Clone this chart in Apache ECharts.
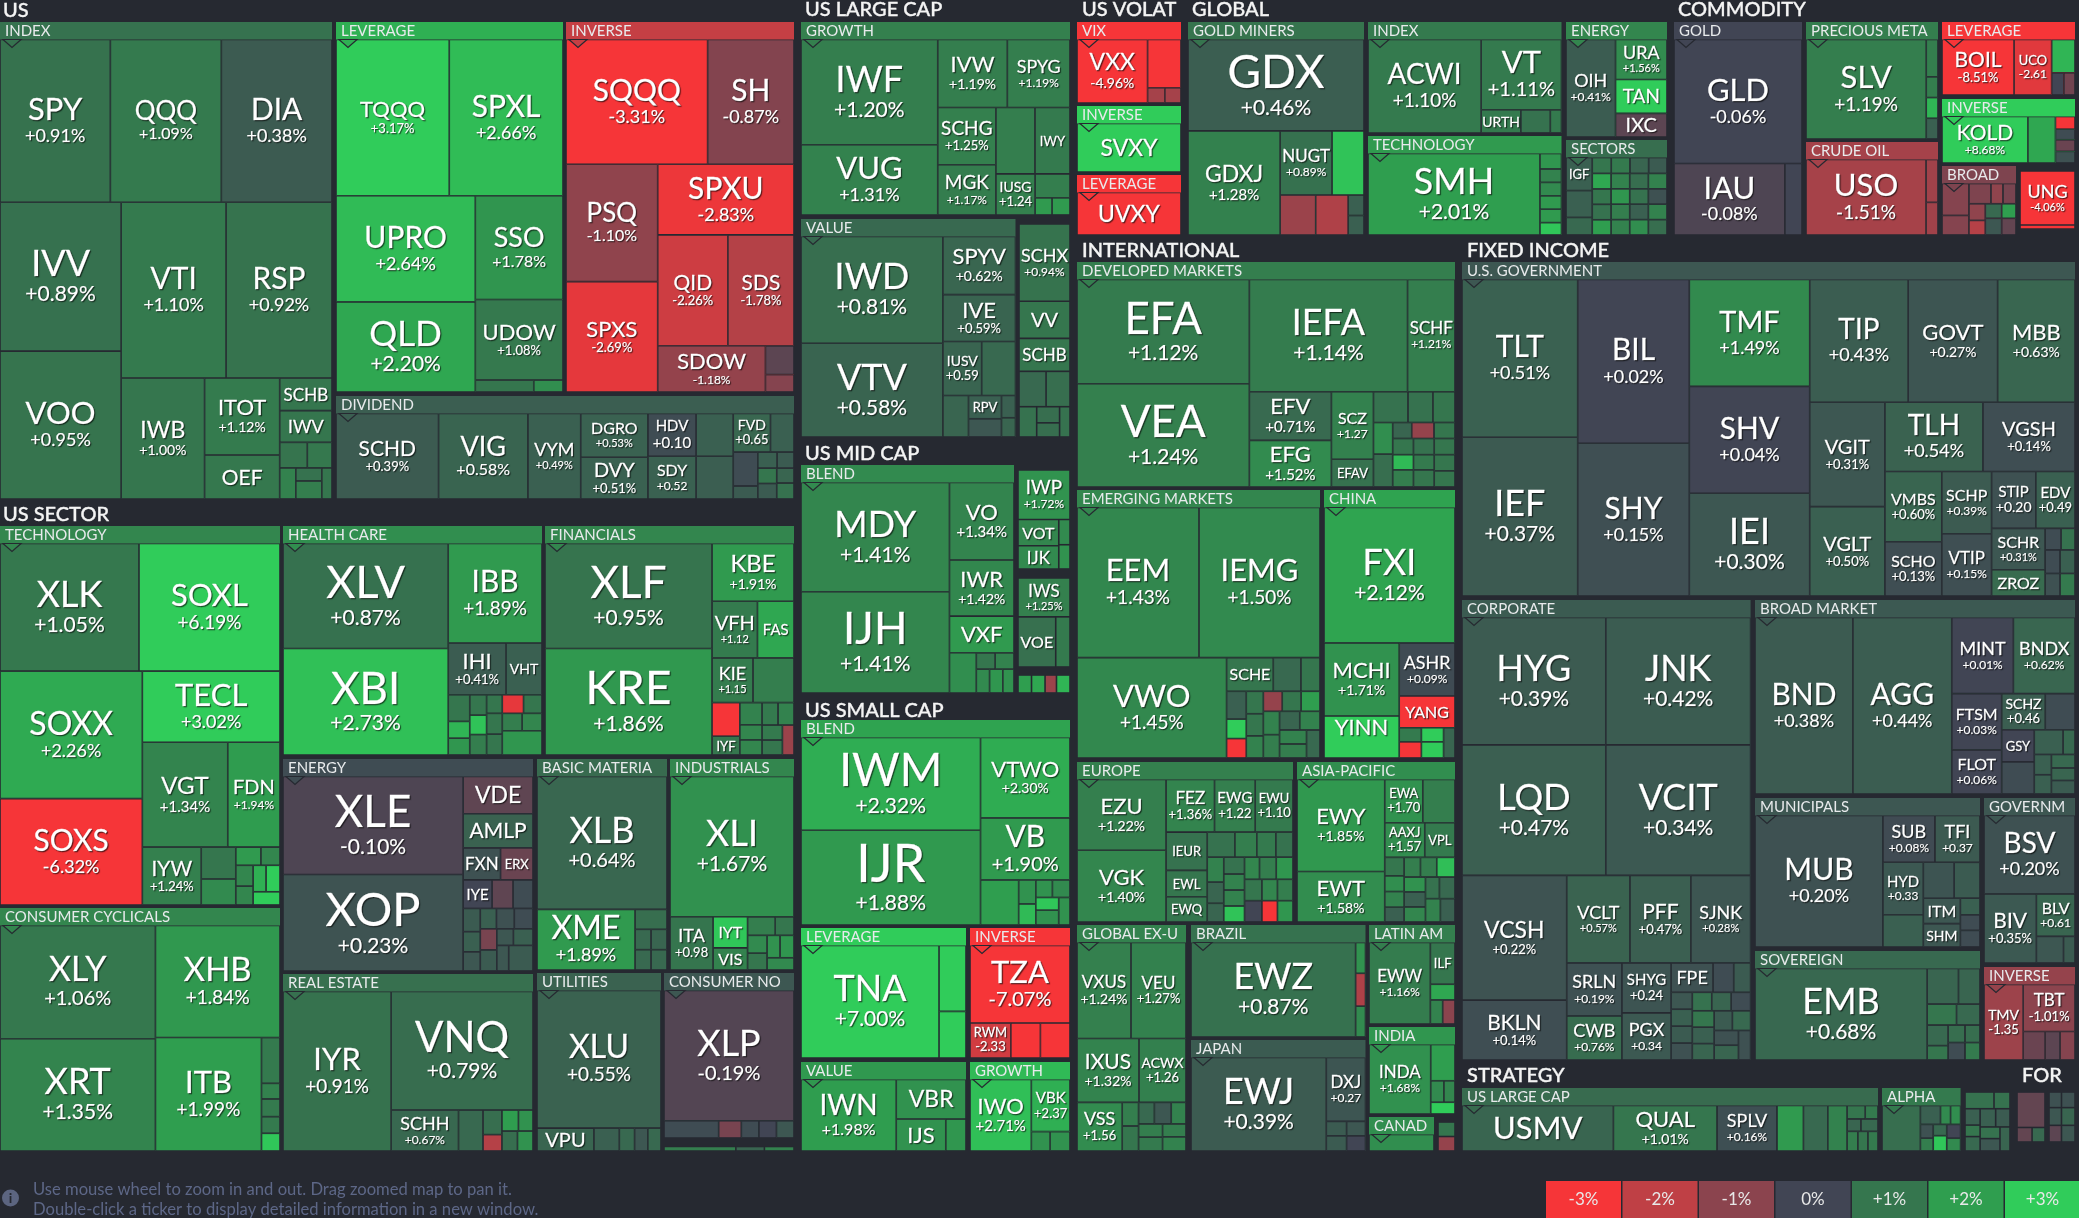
<!DOCTYPE html>
<html><head><meta charset="utf-8"><style>html,body{margin:0;padding:0;background:#262931}#c{width:2079px;height:1218px}</style>
<script src="https://cdn.jsdelivr.net/npm/echarts@6/dist/echarts.min.js"></script></head><body><div id="c"></div>
<script>
// ---- DATA: ticker names, daily change in percent, and relative size ----
const usIndexNames=['SPY','QQQ','DIA','IVV','VOO','VTI','RSP','IWB','ITOT','OEF','SCHB','IWV','','','','','',''];
const usIndexChange=[.91,1.09,.38,.89,.95,1.10,.92,1.00,1.12,1.05,1.0,1.0,.95,1.05,1.3,.9,1.2,1.0];
const usIndexSize=[17800,17900,17850,17880,17760,18270,18444,10004,5736,3278,1696,1643,700,625,496,336,465,315];
const usLevNames=['TQQQ','SPXL','UPRO','QLD','SSO','UDOW','',''];
const usLevChange=[3.17,2.66,2.64,2.20,1.78,1.08,1.0,1.6];
const usLevSize=[17628,17700,14734,12510,9064,7040,696,348];
const usInvNames=['SQQQ','SH','PSQ','SPXS','SPXU','QID','SDS','SDOW','',''];
const usInvChange=[-3.31,-.87,-1.10,-2.69,-2.83,-2.26,-1.78,-1.18,-.3,-.9];
const usInvSize=[17484,10664,10647,10010,9520,7700,7260,4922,812,493];
const usDivNames=['SCHD','VIG','VYM','DGRO','DVY','HDV','SDY','','','FVD','','','','','','','','',''];
const usDivChange=[.39,.58,.49,.53,.51,.10,.52,.5,.45,.65,.5,.1,.4,.5,.4,1.0,.4,.6,.9];
const usDivSize=[8585,7480,4420,2881,2747,2016,2016,1554,1554,1406,888,816,312,304,266,285,288,252,270];
const techNames=['XLK','SOXL','SOXX','SOXS','TECL','VGT','FDN','IYW','','','','','','','','',''];
const techChange=[1.05,6.19,2.26,-6.32,3.02,1.34,1.94,1.24,1.0,1.5,1.9,1.4,1.4,1.4,2.4,3,3];
const techSize=[17514,17766,17907,14946,9660,8840,5408,3364,1088,884,450,342,357,323,338,364,351];
const healthNames=['XLV','XBI','IBB','IHI','VHT','','','','','','','','','','','','','',''];
const healthChange=[.87,2.73,1.89,.41,.5,1.0,2.5,1.8,1.0,2.8,1.2,1.0,-2.7,1.0,1.0,1.0,1.2,1.4,1.8];
const healthSize=[17138,17384,9212,2958,1836,567,357,357,340,323,340,289,391,340,323,323,342,342,950];
const finNames=['XLF','KRE','KBE','VFH','FAS','KIE','','','IYF','','','','','','','',''];
const finChange=[.95,1.86,1.91,1.12,2.2,1.15,1.2,-4,1.0,1.3,1.4,1.4,1.1,1.3,1.1,1.0,-1.3];
const finSize=[17242,17490,4648,2530,2035,1804,1804,918,513,484,330,330,352,352,300,300,341];
const cycNames=['XLY','XRT','XHB','ITB','','','','',''];
const cycChange=[1.06,1.35,1.84,1.99,1.1,1.3,1.1,1.1,2.9];
const cycSize=[17360,17205,13764,11865,836,285,323,304,323];
const energyNames=['XLE','XOP','VDE','AMLP','FXN','ERX','IYE','','','','','','','','','','','','','',''];
const energyChange=[-.10,.23,-.35,.55,.2,-.5,.05,-.35,.1,.4,.5,.3,.5,.2,.1,-.7,.4,.3,.5,.3,.4];
const energySize=[17355,17088,2556,2343,1178,1023,812,588,560,391,340,323,323,357,374,342,342,272,320,300,611];
const basicNames=['XLB','XME','','','','',''];
const basicChange=[.64,1.89,.8,.7,.6,.7,.7];
const basicSize=[17030,5856,627,320,320,320,320];
const indusNames=['XLI','ITA','IYT','VIS','','','','','','',''];
const indusChange=[1.67,.98,2.9,1.3,1.2,1.0,1.5,1.0,1.7,1.8,1.5];
const indusSize=[17112,2255,1054,748,504,342,342,323,286,308,324];
const realNames=['IYR','VNQ','SCHH','','','','','','',''];
const realChange=[.91,.79,.67,.7,.8,-1.8,2.0,1.7,.8,1.7];
const realSize=[16906,16472,2706,984,456,304,340,300,304,304];
const utilNames=['XLU','VPU','','','',''];
const utilChange=[.55,.6,.5,.7,.3,.7];
const utilSize=[16864,1288,575,345,299,299];
const staplesNames=['XLP','VDC','','','',''];
const staplesChange=[-.19,.1,-.7,.1,.0,.3];
const staplesSize=[16640,928,385,298,298,298];
const staplesTailChange=[1.2,.6,1.3];
const staplesTailNames=['','',''];
const staplesTailSize=[340,135,140];
const growthNames=['IWF','VUG','IVW','SPYG','SCHG','MGK','','IWY','IUSG','','',''];
const growthChange=[1.20,1.31,1.19,1.19,1.25,1.17,1.2,1.1,1.24,1.2,1.9,1.9];
const growthSize=[14280,9520,4690,4221,3306,2900,2574,2310,1599,828,289,306];
const valueNames=['IWD','VTV','SPYV','IVE','IUSV','','','RPV','','',''];
const valueChange=[.81,.58,.62,.59,.59,.7,.6,.5,.3,.5,.6];
const valueSize=[14946,13113,4161,3358,2067,1802,1050,759,594,308,266];
const lcSideNames=['SCHX','VV','SCHB','','','','','',''];
const lcSideChange=[.94,1.0,1.0,.7,.8,.9,.8,.8,.9];
const lcSideSize=[3750,1800,1600,910,805,510,352,308,300];
const midNames=['MDY','IJH','VO','IWR','VXF','','','','','',''];
const midChange=[1.41,1.41,1.34,1.42,1.9,1.6,1.0,1.3,1.5,1.8,1.7];
const midSize=[16023,14847,4940,3575,2340,1066,304,304,312,312,264];
const midSideANames=['IWP','VOT','IJK','',''];
const midSideAChange=[1.72,1.4,1.5,1.5,1.7];
const midSideASize=[2496,1040,920,275,264];
const midSideBNames=['IWS','VOE',''];
const midSideBChange=[1.25,.85,1.1];
const midSideBSize=[1976,1850,700];
const midSideCNames=['','','',''];
const midSideCChange=[2,2.2,-1.3,2.5];
const midSideCSize=[234,234,198,234];
const smallNames=['IWM','IJR','VTWO','VB','','','','','','','',''];
const smallChange=[2.32,1.88,2.30,1.90,2.0,1.7,2.6,1.7,1.5,2.9,1.7,1.7];
const smallSize=[16468,16826,7110,5490,1702,408,357,289,306,288,336,308];
const smLevNames=['TNA','',''];
const smLevChange=[7.00,5,5];
const smLevSize=[15344,1755,1242];
const smInvNames=['TZA','RWM','',''];
const smInvChange=[-7.07,-2.33,-4,-4];
const smInvSize=[7600,1400,1015,1015];
const smValNames=['IWN','VBR','IJS',''];
const smValChange=[1.98,1.7,1.7,1.8];
const smValSize=[6745,2730,1568,640];
const smGroNames=['IWO','VBK','',''];
const smGroChange=[2.71,2.37,1.7,1.7];
const smGroSize=[4331,1989,360,380];
const vixNames=['VXX','','',''];
const vixChange=[-4.96,-4.5,-1.5,-1.5];
const vixSize=[4347,1564,255,240];
const volInvNames=['SVXY'];const volInvChange=[3.5];const volInvSize=[1];
const volLevNames=['UVXY'];const volLevChange=[-5];const volLevSize=[1];
const minersNames=['GDX','GDXJ','NUGT','','','','',''];
const minersChange=[.46,1.28,.89,2.8,-1.3,-1.7,.5,.5];
const minersSize=[15840,9450,3276,2016,1400,1280,320,304];
const glIndexNames=['ACWI','VT','URTH','',''];
const glIndexChange=[1.10,1.11,1.1,.9,1.1];
const glIndexSize=[10323,5508,897,667,253];
const glTechNames=['SMH','','','','','',''];
const glTechChange=[2.01,1.8,1.3,1.5,1.9,1.9,2.9];
const glTechSize=[13851,330,286,286,286,286,264];
const glEnergyNames=['OIH','URA','TAN','IXC'];
const glEnergyChange=[.41,1.56,3,-.3];
const glEnergySize=[4753,2028,1716,1196];
const glSectorNames=['IGF','','','','','','','','','','','','','','','','','','','','','',''];
const glSectorChange=[.5,.5,.7,1.0,1.1,.6,.4,2.2,1.0,.9,2.0,1.3,.8,1.3,1.8,1.2,1.3,.9,.2,.5,1.6,1.3,.8];
const glSectorSize=[832,676,442,290,285,285,280,280,278,278,275,275,275,275,275,275,275,275,275,275,275,275,275];
const goldNames=['GLD','IAU',''];
const goldChange=[-.06,-.08,0];
const goldSize=[15616,7810,1207];
const preciousNames=['SLV','','','',''];
const preciousChange=[1.19,1.2,1.2,2.5,.5];
const preciousSize=[11781,432,240,240,240];
const crudeNames=['USO','',''];
const crudeChange=[-1.51,-1.4,-1.4];
const crudeSize=[8925,504,384];
const cmLevNames=['BOIL','UCO','','',''];
const cmLevChange=[-8.51,-2.61,2.5,.0,-.6];
const cmLevSize=[3905,2035,759,264,242];
const cmInvNames=['KOLD','','','','',''];
const cmInvChange=[8.68,2.2,-4,.1,-.5,.2];
const cmInvSize=[3864,1242,240,200,220,220];
const broadCmNames=['','','','','','','','','','',''];
const broadCmChange=[-.9,-.9,-.8,-1.1,-.7,-1.1,-1.8,.7,2.0,.3,-.4];
const broadCmSize=[806,494,418,228,247,256,224,224,196,256,224];
const ungNames=['UNG',''];
const ungChange=[-4.06,-3];
const ungSize=[2915,220];
const devNames=['EFA','VEA','IEFA','SCHF','EFV','EFG','SCZ','EFAV','','','','','','','','','','','','','','','','',''];
const devChange=[1.12,1.24,1.14,1.21,.71,1.52,1.27,.9,.9,.9,1.0,1.6,.8,.6,-1.2,1.0,1.0,2.6,1.2,.9,1.0,1.1,1.0,1.0,1.0,3];
const devSize=[17660,17480,17440,5232,3920,3760,2788,1148,1044,754,667,598,621,299,350,330,330,310,350,330,330,310,350,330,330,310];
const emNames=['EEM','IEMG','VWO','SCHE','','','','','','','','','','','','','','','','','',''];
const emChange=[1.43,1.50,1.45,1.0,.7,1.0,.5,3,-4,1.0,1.0,1.3,-1.2,1.0,2.0,1.3,1.2,.6,1.3,1.3,1.2,.7,.9,-4,1.2,1.0];
const emSize=[17690,17545,14500,1519,899,620,530,370,370,370,365,365,365,365,365,365,365,365,365,365,365,365,365,365,365,365];
const chinaNames=['FXI','MCHI','YINN','ASHR','YANG','','','','',''];
const chinaChange=[2.12,1.71,6.36,.09,-6,1.1,-4,3,3,.6];
const chinaSize=[17423,5402,3108,2912,1736,308,352,308,352,341];
const euNames=['EZU','VGK','FEZ','EWG','EWU','IEUR','EWL','EWQ','','','','','','','','','','','','','','','','','','','',''];
const euChange=[1.22,1.40,1.36,1.22,1.10,.9,1.0,1.0,.9,1.2,1.1,.9,1.3,.6,.6,.9,1.3,1.3,2.8,1.4,1.2,1.8,1.0,.0,1.4,1.2,-4,1.8,1.3,2.2,.7,1.1];
const euSize=[5810,5893,2350,1974,1833,1450,1000,960,638,506,440,396,380,323,285,323,306,306,306,306,342,342,342,342,306,306,306,306,324,324,324,324];
const asiaNames=['EWY','EWT','EWA','','AAXJ','VPL','','','','','','','','','','','','','',''];
const asiaChange=[1.85,1.58,1.70,1.2,1.57,1.1,1.0,1.6,1.3,.5,1.2,1.2,2.7,1.7,.5,1.4,.9,.7,1.3,.5,2.2];
const asiaSize=[7644,4200,1560,1320,1312,992,340,289,289,272,304,304,340,300,304,304,286,319,330,323,304];
const exUsNames=['VXUS','VEU','IXUS','ACWX','VSS','','','','','','','','',''];
const exUsChange=[1.24,1.27,1.32,1.26,1.56,1.2,1.0,.7,.3,1.3,1.2,1.1,1.2,1.3,2.3];
const exUsSize=[5022,5115,3844,2914,2132,374,396,330,352,308,308,322,294,322,294];
const brazilNames=['EWZ','','',''];
const brazilChange=[.87,1.7,-1.7,1.5];
const brazilSize=[15322,300,320,300];
const japanNames=['EWJ','DXJ','','','',''];
const japanChange=[.39,.27,.4,.4,.3,.0];
const japanSize=[12328,2440,285,300,266,280];
const latamNames=['EWW','ILF','','',''];
const latamChange=[1.16,1.0,2.2,1.3,-1];
const latamSize=[4860,1000,375,288,288];
const indiaNames=['INDA','','','',''];
const indiaChange=[1.68,2.0,1.5,1.4,3];
const indiaSize=[4140,850,273,231,275];
const canadaNames=[''];const canadaChange=[1.6];const canadaSize=[1];
const canadaSideNames=['',''];const canadaSideChange=[1.0,-1.2];const canadaSideSize=[224,224];
const govNames=['TLT','IEF','BIL','SHY','TMF','SHV','IEI','TIP','GOVT','MBB','VGIT','VGLT','TLH','VGSH','VMBS','SCHO','SCHP','VTIP','STIP','EDV','SCHR','ZROZ','','','','','',''];
const govChange=[.51,.37,.02,.15,1.49,.04,.30,.43,.27,.63,.31,.50,.54,.14,.60,.13,.39,.15,.20,.49,.31,.75,.1,.9,.1,.5,.2,1.1];
const govSize=[17898,18012,17930,16720,12614,12614,12138,11858,10769,9317,7696,6586,6664,6256,3920,3024,3038,3038,2464,2184,2173,1378,336,294,345,345,330,330];
const corpNames=['HYG','JNK','LQD','VCIT','VCSH','BKLN','VCLT','PFF','SJNK','SRLN','CWB','SHYG','PGX','FPE','','','','','','','','','','','','','','','','',''];
const corpChange=[.39,.42,.47,.34,.22,.14,.57,.47,.28,.19,.76,.24,.34,.2,.1,.4,.3,.5,.4,.2,.9,.6,.1,1.0,.5,.6,.4,.7,.2,.6,.2,.5];
const corpSize=[17875,18000,18304,18432,12750,6120,5400,5200,5100,2856,2379,2403,2262,1207,594,486,350,350,350,350,350,350,350,350,350,350,350,350,350,350,350,350];
const bdNames=['BND','AGG','MINT','BNDX','FTSM','FLOT','SCHZ','','GSY','','','','','','','',''];
const bdChange=[.38,.44,.01,.62,.03,.06,.46,.1,.02,.1,.5,.7,.5,.5,.7,.6,.4];
const bdSize=[16896,17072,4588,4588,2744,2156,1540,1050,1024,1024,696,288,340,323,312,288,312];
const muniNames=['MUB','SUB','TFI','HYD','','','','ITM','SHM','','',''];
const muniChange=[.20,.08,.37,.33,.5,.25,.4,.3,.3,.5,.1,.1];
const muniSize=[16506,2392,2070,2080,1280,1085,910,925,851,320,300,320];
const gvNames=['BSV','BIV','BLV','',''];
const gvChange=[.20,.35,.61,.3,.4];
const gvSize=[6930,3519,1596,702,297];
const sovNames=['EMB','','','','','','','','','',''];
const sovChange=[.68,.6,.6,1.0,.7,.7,1.0,.8,.8,.1,1.1];
const sovSize=[15379,1088,748,600,480,420,294,288,256,288,256];
const fiInvNames=['TMV','TBT','','',''];
const fiInvChange=[-1.35,-1.01,-.5,-.3,-.9];
const fiInvSize=[2800,2300,594,403,403];
const stratNames=['USMV','QUAL','SPLV','','','','','','','','','',''];
const stratChange=[.6,1.01,.16,1.9,.7,1.3,1.0,1.1,.6,.7,1.2,1.0,1.1];
const stratSize=[6780,4641,2685,1183,1092,864,240,169,169,208,208,195,195];
const alphaNames=['','','','','','','','','',''];
const alphaChange=[.8,.5,1.5,1.6,.2,1.2,.7,2.9,.0,1.5];
const alphaSize=[1656,360,180,180,168,156,144,196,182,168];
const stSideNames=['','','','','','','','','',''];
const stSideChange=[.9,.9,.5,1.0,.7,.5,.4,.9,.3,.6];
const stSideSize=[435,240,221,156,195,255,234,208,221,216];
const forANames=['','',''];const forAChange=[-.4,-.4,.7];const forASize=[952,210,180];
const forBNames=['','','','','',''];const forBChange=[.2,.2,.3,.6,-.3,.3];const forBSize=[180,195,204,221,192,208];

const sectorTitles=['US','US SECTOR','US LARGE CAP','US MID CAP','US SMALL CAP','US VOLAT','GLOBAL','COMMODITY','INTERNATIONAL','FIXED INCOME','STRATEGY','FOR'];
const legendLabels=['-3%','-2%','-1%','0%','+1%','+2%','+3%'];
const legendChanges=[-3,-2,-1,0,1,2,3];
const footerLines=['Use mouse wheel to zoom in and out. Drag zoomed map to pan it.','Double-click a ticker to display detailed information in a new window.'];

// [header text, header change, names, changes, sizes]
const panels=[
['INDEX',.9,usIndexNames,usIndexChange,usIndexSize],
['LEVERAGE',2.4,usLevNames,usLevChange,usLevSize],
['INVERSE',-2.1,usInvNames,usInvChange,usInvSize],
['DIVIDEND',.45,usDivNames,usDivChange,usDivSize],
['TECHNOLOGY',1.4,techNames,techChange,techSize],
['HEALTH CARE',1.6,healthNames,healthChange,healthSize],
['FINANCIALS',1.4,finNames,finChange,finSize],
['CONSUMER CYCLICALS',1.4,cycNames,cycChange,cycSize],
['ENERGY',.1,energyNames,energyChange,energySize],
['BASIC MATERIA',.75,basicNames,basicChange,basicSize],
['INDUSTRIALS',1.4,indusNames,indusChange,indusSize],
['REAL ESTATE',.85,realNames,realChange,realSize],
['UTILITIES',.55,utilNames,utilChange,utilSize],
['CONSUMER NO',.3,staplesNames,staplesChange,staplesSize],
['',0,staplesTailNames,staplesTailChange,staplesTailSize],
['GROWTH',1.25,growthNames,growthChange,growthSize],
['VALUE',.7,valueNames,valueChange,valueSize],
['',0,lcSideNames,lcSideChange,lcSideSize],
['BLEND',1.5,midNames,midChange,midSize],
['',0,midSideANames,midSideAChange,midSideASize],
['',0,midSideBNames,midSideBChange,midSideBSize],
['',0,midSideCNames,midSideCChange,midSideCSize],
['BLEND',2.1,smallNames,smallChange,smallSize],
['LEVERAGE',6,smLevNames,smLevChange,smLevSize],
['INVERSE',-6,smInvNames,smInvChange,smInvSize],
['VALUE',1.85,smValNames,smValChange,smValSize],
['GROWTH',2.6,smGroNames,smGroChange,smGroSize],
['VIX',-4,vixNames,vixChange,vixSize],
['INVERSE',3.5,volInvNames,volInvChange,volInvSize],
['LEVERAGE',-5,volLevNames,volLevChange,volLevSize],
['GOLD MINERS',.95,minersNames,minersChange,minersSize],
['INDEX',1.1,glIndexNames,glIndexChange,glIndexSize],
['TECHNOLOGY',1.9,glTechNames,glTechChange,glTechSize],
['ENERGY',1.4,glEnergyNames,glEnergyChange,glEnergySize],
['SECTORS',.8,glSectorNames,glSectorChange,glSectorSize],
['GOLD',0,goldNames,goldChange,goldSize],
['PRECIOUS META',1.2,preciousNames,preciousChange,preciousSize],
['CRUDE OIL',-1.5,crudeNames,crudeChange,crudeSize],
['LEVERAGE',-5,cmLevNames,cmLevChange,cmLevSize],
['INVERSE',5,cmInvNames,cmInvChange,cmInvSize],
['BROAD',-.8,broadCmNames,broadCmChange,broadCmSize],
['',0,ungNames,ungChange,ungSize],
['DEVELOPED MARKETS',1.2,devNames,devChange,devSize],
['EMERGING MARKETS',1.4,emNames,emChange,emSize],
['CHINA',2.1,chinaNames,chinaChange,chinaSize],
['EUROPE',1.25,euNames,euChange,euSize],
['ASIA-PACIFIC',1.6,asiaNames,asiaChange,asiaSize],
['GLOBAL EX-U',1.3,exUsNames,exUsChange,exUsSize],
['BRAZIL',.9,brazilNames,brazilChange,brazilSize],
['JAPAN',.4,japanNames,japanChange,japanSize],
['LATIN AM',1.2,latamNames,latamChange,latamSize],
['INDIA',1.8,indiaNames,indiaChange,indiaSize],
['CANAD',1.6,canadaNames,canadaChange,canadaSize],
['',0,canadaSideNames,canadaSideChange,canadaSideSize],
['U.S. GOVERNMENT',.3,govNames,govChange,govSize],
['CORPORATE',.4,corpNames,corpChange,corpSize],
['BROAD MARKET',.35,bdNames,bdChange,bdSize],
['MUNICIPALS',.3,muniNames,muniChange,muniSize],
['GOVERNM',.3,gvNames,gvChange,gvSize],
['SOVEREIGN',.7,sovNames,sovChange,sovSize],
['INVERSE',-1.2,fiInvNames,fiInvChange,fiInvSize],
['US LARGE CAP',.75,stratNames,stratChange,stratSize],
['ALPHA',1.1,alphaNames,alphaChange,alphaSize],
['',0,stSideNames,stSideChange,stSideSize],
['',0,forANames,forAChange,forASize],
['',0,forBNames,forBChange,forBSize]
];

// ---- LAYOUT: one rectangle per panel, same order as above; the library squarifies inside it ----
const panelBoxes=[
[0,22,332,499],[336,22,563,392],[566,22,794,392],[336,396,794,499],
[0,526,280,905],[283,526,542,755],[545,526,794,755],[0,908,280,1151],
[283,759,533,971],[537,759,667,970],[670,759,794,970],[283,974,533,1151],
[537,973,661,1151],[664,973,794,1138],[664,1146.5,794,1151],
[801,22,1070,215],[801,219,1015.5,437],[1019,224,1070,437],
[801,465,1014,693],[1018,470,1070,569],[1018,578,1070,667],[1018,675,1070,693],
[801,720,1070,925],[801,928,966,1058],[970,928,1070,1058],[801,1062,966,1151],[970,1062,1070,1151],
[1077,22,1181,103],[1077,106,1181,172],[1077,175,1181,235],
[1188,22,1364,235],[1368,22,1561.5,133],[1368,136,1561.5,235],[1566,22,1667,137],[1566,140,1667,235],
[1674,22,1802,235],[1806,22,1938,139],[1806,142,1938,235],[1942,22,2075,95],[1942,99,2075,163],[1942,166,2016,235],[2020,171,2075,229],
[1077,262,1455,487],[1077,490,1320,758],[1324,490,1455,758],[1077,762,1293,922],[1297,762,1455,922],
[1077,925,1186,1151],[1191,925,1365.5,1037],[1191,1040,1365.5,1151],[1369,925,1455,1024],[1369,1027,1455,1114],[1369,1117,1434,1151],[1438,1122,1455,1151],
[1462,262,2075,596],[1462,600,1750.6,1060],[1755,600,2075,794],[1755,798,1980,947],[1984,798,2075,963],[1755,951,1980,1060],[1984,967,2075,1060],
[1462,1088,1878,1151],[1882,1088,1960.6,1151],[1965,1092,2010,1151],[2017,1092,2045,1142],[2049,1092,2075,1142]
];
const titleSpots=[[3,11],[3,515],[805,10],[805,454],[805,711],[1082,10],[1192,10],[1678,10],[1082,251],[1467,251],[1467,1076],[2022,1076]];
// font sizes [ticker, change]
const labelFonts={SPY:[31,18],QQQ:[26,16],DIA:[30,18],IVV:[36,21],VTI:[30,18],RSP:[30,18],VOO:[31,18],IWB:[23,14],ITOT:[22,14],OEF:[21],SCHB:[17],IWV:[18],
TQQQ:[22,13],SPXL:[30,18],UPRO:[30,18],SSO:[27,16],QLD:[35,21],UDOW:[22,13],SQQQ:[30,18],SH:[30,18],PSQ:[26,16],SPXU:[30,18],QID:[21,13],SDS:[21,13],SPXS:[22,13],SDOW:[22,12],
SCHD:[21,13],VIG:[27,16],VYM:[18,11],DGRO:[16,11],DVY:[20,13],HDV:[15,15],SDY:[16,12],FVD:[14,13],
XLK:[36,21],SOXL:[31,19],SOXX:[32,18],TECL:[31,18],SOXS:[30,18],VGT:[24,15],FDN:[20,12],IYW:[21,13],XLY:[34,20],XHB:[33,19],XRT:[36,21],ITB:[31,19],
XLV:[45,21],IBB:[30,19],XBI:[44,21],IHI:[22,13],VHT:[14],XLF:[44,21],KRE:[46,21],KBE:[24,14],VFH:[20,11],FAS:[15],KIE:[18,11],IYF:[13],
XLE:[44,21],XOP:[47,21],VDE:[23],AMLP:[21],FXN:[17],ERX:[13],IYE:[15],XLB:[36,20],XME:[32,18],XLI:[36,21],ITA:[18,13],IYT:[16],VIS:[16],
IYR:[31,19],VNQ:[42,21],SCHH:[18,12],XLU:[32,19],VPU:[20],XLP:[36,20],VDC:[16],
IWF:[36,21],IVW:[22,14],SPYG:[18,12],VUG:[31,18],SCHG:[19,13],MGK:[19,12],IUSG:[14,13],IWY:[13],IWD:[36,21],VTV:[36,21],SPYV:[22,14],IVE:[22,13],IUSV:[14,13],RPV:[13],SCHX:[18,12],VV:[20],
GDX:[46,21],ACWI:[28,19],GDXJ:[23,15],NUGT:[17,12],VXX:[23,14],SVXY:[23],UVXY:[23],VT:[31,20],URTH:[14],SMH:[36,21],OIH:[18,12],URA:[18,11],TAN:[19],IXC:[20],IGF:[13],
GLD:[31,18],IAU:[31,18],SLV:[31,19],USO:[31,19],BOIL:[21,13],UCO:[13,12],KOLD:[21,12],UNG:[18,11],
EFA:[44,21],VEA:[44,21],IEFA:[36,21],SCHF:[17,12],EFV:[22,15],EFG:[22,15],SCZ:[16,12],EFAV:[13],
MDY:[36,21],IJH:[44,21],VO:[22,15],IWR:[22,14],VXF:[22],IWP:[19,12],VOT:[16],IJK:[17],IWS:[17,11],VOE:[16],IWM:[46,21],IJR:[52,21],VTWO:[22,14],VB:[30,20],
TNA:[36,21],TZA:[31,20],RWM:[13,13],IWN:[28,16],VBR:[23],IJS:[22],IWO:[22,15],VBK:[15,13],
EEM:[31,19],IEMG:[31,19],VWO:[31,19],SCHE:[16],FXI:[36,21],MCHI:[22,14],ASHR:[18,12],YANG:[16],YINN:[22,15],
EZU:[22,14],VGK:[22,14],FEZ:[17,13],EWG:[15,13],EWU:[13,13],IEUR:[13],EWL:[13],EWQ:[13],EWY:[22,14],EWT:[22,14],EWA:[13,13],AAXJ:[13,13],VPL:[13],
VXUS:[17,14],VEU:[17,13],IXUS:[21,14],ACWX:[14,13],VSS:[18,13],EWZ:[36,21],EWJ:[36,21],DXJ:[17,12],EWW:[17,12],ILF:[13],INDA:[17,12],
TLT:[30,18],BIL:[30,18],TMF:[29,18],SHV:[30,18],IEI:[36,21],IEF:[36,21],SHY:[30,18],TIP:[28,18],GOVT:[22,14],MBB:[22,14],VGIT:[20,13],VGLT:[20,13],TLH:[28,18],VGSH:[20,13],VMBS:[16,13],SCHP:[16,12],SCHO:[16,13],VTIP:[17,12],STIP:[15,14],EDV:[15,13],SCHR:[16,11],ZROZ:[16],
HYG:[36,21],JNK:[36,21],LQD:[36,21],VCIT:[36,21],VCSH:[23,13],BKLN:[21,13],VCLT:[18,11],PFF:[21,13],SJNK:[18,11],SRLN:[18,12],SHYG:[15,13],CWB:[18,12],PGX:[18,12],FPE:[18],
BND:[30,18],AGG:[30,18],MINT:[18,12],BNDX:[18,12],FTSM:[16,12],FLOT:[16,12],SCHZ:[14,13],GSY:[13],MUB:[30,18],SUB:[18,12],TFI:[18,12],HYD:[15,12],ITM:[16],SHM:[14],BSV:[28,18],BIV:[21,13],BLV:[16,12],EMB:[36,21],TMV:[14,13],TBT:[17,13],USMV:[31],QUAL:[22,14],SPLV:[18,12]};
const plainNumber=new Set(['HDV','SDY','FVD','VFH','KIE','IUSG','IUSV','SCZ','VBK','RWM','VSS','ACWX','EWG','EWU','EWA','AAXJ','UCO','STIP','EDV','TFI','HYD','SHYG','PGX','SCHZ','BLV','TMV','ITA','DXJ']);

const BG='#262931',FONT='Lato',stops=[[-3,[246,53,56]],[-2,[191,64,69]],[-1,[139,68,78]],[0,[65,69,84]],[1,[53,118,78]],[2,[47,158,79]],[3,[48,204,90]]];
function colorOf(v){
  let a=Math.abs(v);
  if(a<.07)a=0;else if(a<1){a=Math.pow(a,.85);if(v<0)a=Math.max(a,.18);}
  const s=v<0?-a:a,c=Math.max(-3,Math.min(3,s));
  for(let i=0;i<6;i++){if(c<=stops[i+1][0]){const t=c-stops[i][0],A=stops[i][1],B=stops[i+1][1];
    return 'rgb('+A.map((x,k)=>Math.round(x+(B[k]-x)*t)).join(',')+')';}}
  return 'rgb(48,204,90)';
}
function signed(v,d){return (v>0?'+':'')+v.toFixed(d)}
const shadow={textShadowColor:'rgba(0,0,0,.6)',textShadowBlur:1,textShadowOffsetX:1,textShadowOffsetY:1};
function lineHeights(f){return [Math.round(f[0]*.95),f[1]?Math.round(f[1]*1.25):0]}
function leaf(name,chg,size,cellH){
  const o={name:name||' ',value:size,itemStyle:{color:colorOf(chg),borderColor:BG,borderWidth:.8}};
  const f=labelFonts[name];
  if(name&&f){
    const lh=lineHeights(f),top=cellH?Math.max(0,(cellH-lh[0]-lh[1])/2):0;
    const txt=f[1]?signed(chg,2)+(plainNumber.has(name)?'':'%'):'';
    o.label={show:true,position:'inside',overflow:'none',padding:[top,0,0,0],formatter:'{t|'+name+'}'+(txt?'\n{p|'+txt+'}':''),
      rich:{t:Object.assign({fontFamily:FONT,fontSize:f[0],lineHeight:lh[0],color:'#fff',align:'center',textBorderColor:'rgba(255,255,255,.9)',textBorderWidth:.35},shadow),
            p:Object.assign({fontFamily:FONT,fontSize:f[1]||10,lineHeight:lh[1]||12,color:'#fff',align:'center',textBorderColor:'rgba(255,255,255,.9)',textBorderWidth:.25},shadow)}};
  } else o.label={show:false};
  return o;
}
const HEAD=17.5;
function buildSeries(heights){
  return panels.map((p,i)=>{
    const b=panelBoxes[i],kids=p[2].map((n,k)=>leaf(n,p[3][k],p[4][k],heights[i+'|'+n]));
    const hc=colorOf(p[1]);
    const data=p[0]?[{name:p[0],itemStyle:{color:hc,borderColor:hc,borderWidth:0,gapWidth:0},
        upperLabel:{show:true,height:HEAD,color:'#e8eaec',fontFamily:FONT,fontSize:15,position:'insideLeft',padding:0,overflow:'none',formatter:'{b}',textShadowBlur:0},
        children:kids}]:kids;
    return {type:'treemap',left:b[0],top:b[1],width:b[2]-b[0],height:b[3]-b[1],roam:false,nodeClick:false,silent:true,
      breadcrumb:{show:false},sort:false,squareRatio:1,visibleMin:0,animation:false,
      levels:[{itemStyle:{borderWidth:0,gapWidth:0,borderColor:BG}}],data};
  });
}
const graphics=[];
panels.forEach((p,i)=>{
  if(p[0]){
    const b=panelBoxes[i],x=b[0],y=b[1]+HEAD;
    graphics.push({type:'polygon',z:100,silent:true,shape:{points:[[x+3,y],[x+12,y+8],[x+21,y]]},style:{fill:colorOf(p[1]),stroke:BG,lineWidth:1.2}});
  }
});
sectorTitles.forEach((t,i)=>graphics.push({type:'text',z:100,silent:true,x:titleSpots[i][0],y:titleSpots[i][1],
  style:{text:t,fill:'#f4f4f4',stroke:'#f4f4f4',lineWidth:.35,font:'500 20px '+FONT,textVerticalAlign:'middle',textAlign:'left'}}));
legendLabels.forEach((t,i)=>{
  const x=1546+i*76.5;
  graphics.push({type:'rect',z:100,silent:true,shape:{x:x,y:1181,width:75,height:37},style:{fill:colorOf(legendChanges[i])}});
  graphics.push({type:'text',z:101,silent:true,x:x+37.5,y:1200,style:{text:t,fill:'#e8e8e8',font:'17px '+FONT,textAlign:'center',textVerticalAlign:'middle'}});
});
graphics.push({type:'circle',z:100,silent:true,shape:{cx:10.5,cy:1198,r:8.5},style:{fill:'#5c6580'}});
graphics.push({type:'text',z:101,silent:true,x:10.5,y:1198,style:{text:'i',fill:BG,font:'700 14px '+FONT,textAlign:'center',textVerticalAlign:'middle'}});
footerLines.forEach((t,i)=>graphics.push({type:'text',z:100,silent:true,x:33,y:1190+i*20,style:{text:t,fill:'#5d6787',font:'16.6px '+FONT,textVerticalAlign:'middle'}}));

const chart=echarts.init(document.getElementById('c'),null,{renderer:'canvas'});
function render(heights){chart.setOption({backgroundColor:BG,animation:false,tooltip:{show:false},series:buildSeries(heights),graphic:{elements:graphics}},true);}
render({});
// second pass: centre each label in the cell height the library computed
const heights={};
panels.forEach((p,i)=>{
  chart.getModel().getSeriesByIndex(i).getData().tree.root.eachNode(n=>{
    if(!n.children.length&&n.name&&n.name.trim()){heights[i+'|'+n.name]=n.getLayout().height;}
  });
});
render(heights);
</script></body></html>
